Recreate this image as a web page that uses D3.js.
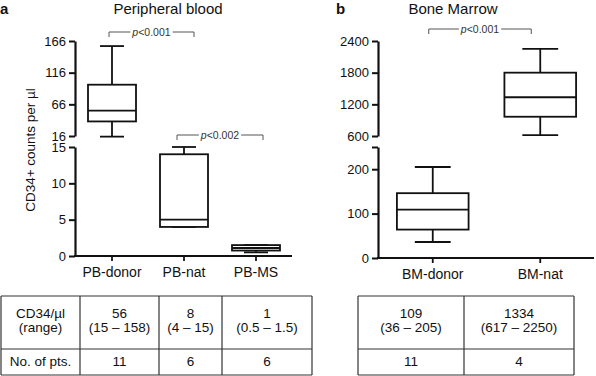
<!DOCTYPE html>
<html><head><meta charset="utf-8">
<script src="https://cdn.jsdelivr.net/npm/d3@7"></script>
<style>
body{margin:0;background:#fff;}
svg{display:block;font-family:"Liberation Sans",Arial,Helvetica,sans-serif;}
</style></head>
<body>
<svg id="c" width="596" height="376"></svg>
<script>
// ---------- DATA ----------
const pbCategories = ["PB-donor", "PB-nat", "PB-MS"];
const pbMin    = [15, 4, 0.5];
const pbQ1     = [39, 4, 0.75];
const pbMedian = [56, 5, 1.1];
const pbQ3     = [97, 14, 1.5];
const pbMax    = [158, 15, 1.5];

const bmCategories = ["BM-donor", "BM-nat"];
const bmMin    = [36, 617];
const bmQ1     = [64, 965];
const bmMedian = [109, 1334];
const bmQ3     = [146, 1800];
const bmMax    = [205, 2250];

const pbTopTicks = [16, 66, 116, 166];
const pbBottomTicks = [0, 5, 10, 15];
const bmTopTicks = [600, 1200, 1800, 2400];
const bmBottomTicks = [0, 100, 200];
const bmBottomMax = 250;

const pValues = ["p<0.001", "p<0.002", "p<0.001"];

const tableRowHeaders = ["CD34/\u00b5l", "(range)", "No. of pts."];
const pbTableMedian = ["56", "8", "1"];
const pbTableRange  = ["(15 \u2013 158)", "(4 \u2013 15)", "(0.5 \u2013 1.5)"];
const pbTableN      = ["11", "6", "6"];
const bmTableMedian = ["109", "1334"];
const bmTableRange  = ["(36 \u2013 205)", "(617 \u2013 2250)"];
const bmTableN      = ["11", "4"];

// ---------- LAYOUT ----------
const svg = d3.select("#c");
const black = "#111";
const fmt = d3.format("d");

function makePanel(cfg) {
  const g = svg.append("g");
  const x = d3.scaleBand().domain(cfg.cats).range([cfg.x0 + 1, cfg.x1]).padding(0);
  const yTop = d3.scaleLinear().domain([cfg.topTicks[0], cfg.topTicks[cfg.topTicks.length - 1]]).range([cfg.topY1, cfg.topY0]);
  const yBot = d3.scaleLinear().domain([0, cfg.botMax]).range([cfg.botY1, cfg.botY0]);

  // axes
  const axTop = d3.axisLeft(yTop).tickValues(cfg.topTicks).tickSize(6).tickPadding(3).tickSizeOuter(0).tickFormat(fmt);
  const axBot = d3.axisLeft(yBot).tickValues(cfg.botTicks.concat(cfg.botExtra ? [cfg.botMax] : []))
    .tickSize(6).tickPadding(3).tickSizeOuter(0)
    .tickFormat(d => cfg.botTicks.includes(d) ? fmt(d) : "");
  [axTop, axBot].forEach(ax => {
    const a = g.append("g").attr("transform", `translate(${cfg.x0},0)`).call(ax);
    a.select(".domain").attr("stroke", black).attr("stroke-width", 2.2);
    a.selectAll(".tick line").attr("stroke", black).attr("stroke-width", 2);
    a.selectAll(".tick text").attr("font-size", 13).attr("fill", black).attr("font-family", "Liberation Sans, Arial, sans-serif");
  });
  // x axis
  const ax = g.append("g").attr("transform", `translate(0,${cfg.botY1})`)
    .call(d3.axisBottom(x).tickSize(5).tickPadding(6).tickSizeOuter(0));
  ax.select(".domain").attr("stroke", black).attr("stroke-width", 2.2)
    .attr("d", `M${cfg.x0 - 1},0H${cfg.x1}`);
  ax.selectAll(".tick line").attr("stroke", black).attr("stroke-width", 1.8);
  ax.selectAll(".tick text").attr("font-size", 14).attr("fill", black).attr("font-family", "Liberation Sans, Arial, sans-serif");

  // boxes
  const bw = x.step() * 2 / 3;
  cfg.cats.forEach((c, i) => {
    const y = cfg.median[i] > cfg.topTicks[0] ? yTop : yBot;
    const cx = x(c) + x.bandwidth() / 2;
    const bg = g.append("g").attr("stroke", black).attr("stroke-width", 1.8).attr("fill", "none");
    bg.append("line").attr("x1", cx).attr("x2", cx).attr("y1", y(cfg.max[i])).attr("y2", y(cfg.q3[i]));
    bg.append("line").attr("x1", cx).attr("x2", cx).attr("y1", y(cfg.q1[i])).attr("y2", y(cfg.min[i]));
    bg.append("line").attr("x1", cx - bw / 4).attr("x2", cx + bw / 4).attr("y1", y(cfg.max[i])).attr("y2", y(cfg.max[i]));
    bg.append("line").attr("x1", cx - bw / 4).attr("x2", cx + bw / 4).attr("y1", y(cfg.min[i])).attr("y2", y(cfg.min[i]));
    bg.append("rect").attr("x", cx - bw / 2).attr("width", bw)
      .attr("y", y(cfg.q3[i])).attr("height", y(cfg.q1[i]) - y(cfg.q3[i])).attr("fill", "#fff");
    bg.append("line").attr("x1", cx - bw / 2).attr("x2", cx + bw / 2).attr("y1", y(cfg.median[i])).attr("y2", y(cfg.median[i]));
  });

  // title + letter
  g.append("text").attr("x", cfg.titleX).attr("y", 14).attr("text-anchor", "middle")
    .attr("font-size", 15).attr("fill", black).text(cfg.title);
  g.append("text").attr("x", cfg.letterX).attr("y", cfg.letterY).attr("font-size", 15)
    .attr("font-weight", "bold").attr("fill", black).text(cfg.letter);

  // brackets
  cfg.brackets.forEach(b => {
    const x1 = x(cfg.cats[b.a]) + x.bandwidth() / 2 + b.dx1;
    const x2 = x(cfg.cats[b.b]) + x.bandwidth() / 2 + b.dx2;
    const mid = (x1 + x2) / 2 + b.tdx;
    const t = g.append("text").attr("x", mid).attr("y", b.y + 3.5).attr("text-anchor", "middle")
      .attr("font-size", 10.5).attr("fill", "#333");
    t.append("tspan").attr("font-style", "italic").text(pValues[b.p].slice(0, 1));
    t.append("tspan").text(pValues[b.p].slice(1));
    const tw = t.node().getComputedTextLength();
    const bl = g.append("g").attr("stroke", "#555").attr("stroke-width", 1).attr("fill", "none");
    bl.append("path").attr("d", `M${x1},${b.y + 5}V${b.y}H${mid - tw / 2 - 2}`);
    bl.append("path").attr("d", `M${mid + tw / 2 + 2},${b.y}H${x2}V${b.y + 5}`);
  });
  return { x, yTop, yBot };
}

makePanel({
  cats: pbCategories, min: pbMin, q1: pbQ1, median: pbMedian, q3: pbQ3, max: pbMax,
  x0: 75, x1: 292, topTicks: pbTopTicks, topY0: 41, topY1: 136,
  botTicks: pbBottomTicks, botMax: 15, botExtra: false, botY0: 147, botY1: 256,
  title: "Peripheral blood", titleX: 168, letter: "a", letterX: 0, letterY: 14,
  brackets: [{ a: 0, b: 1, dx1: -3, dx2: 10, y: 32, p: 0, tdx: 0 },
             { a: 1, b: 2, dx1: -7, dx2: 7, y: 135, p: 1, tdx: 0 }]
});
makePanel({
  cats: bmCategories, min: bmMin, q1: bmQ1, median: bmMedian, q3: bmQ3, max: bmMax,
  x0: 378, x1: 594, topTicks: bmTopTicks, topY0: 41, topY1: 136,
  botTicks: bmBottomTicks, botMax: bmBottomMax, botExtra: true, botY0: 147, botY1: 258,
  title: "Bone Marrow", titleX: 453, letter: "b", letterX: 336, letterY: 14,
  brackets: [{ a: 0, b: 1, dx1: -4, dx2: -9, y: 29, p: 2, tdx: 0 }]
});

// Y axis title
svg.append("text").attr("transform", "translate(35,150) rotate(-90)").attr("text-anchor", "middle")
  .attr("font-size", 13.5).attr("fill", black).text("CD34+ counts per \u00b5l");

// ---------- TABLES ----------
function table(cols, rowsY, cells) {
  const g = svg.append("g");
  cols.forEach(cx => g.append("line").attr("x1", cx).attr("x2", cx).attr("y1", rowsY[0]).attr("y2", rowsY[rowsY.length - 1]).attr("stroke", "#333").attr("stroke-width", 1.2));
  rowsY.forEach(ry => g.append("line").attr("x1", cols[0]).attr("x2", cols[cols.length - 1]).attr("y1", ry).attr("y2", ry).attr("stroke", "#333").attr("stroke-width", 1.2));
  cells.forEach(c => {
    const cx = (cols[c.col] + cols[c.col + 1]) / 2;
    g.append("text").attr("x", cx).attr("y", c.y).attr("text-anchor", "middle")
      .attr("font-size", 13.5).attr("fill", black).text(c.text);
  });
}
const rowY = [296, 349, 375];
const leftCells = [
  { col: 0, y: 318, text: tableRowHeaders[0] },
  { col: 0, y: 332, text: tableRowHeaders[1] },
  { col: 0, y: 366, text: tableRowHeaders[2] }
];
pbTableMedian.forEach((v, i) => {
  leftCells.push({ col: i + 1, y: 318, text: v });
  leftCells.push({ col: i + 1, y: 332, text: pbTableRange[i] });
  leftCells.push({ col: i + 1, y: 366, text: pbTableN[i] });
});
table([1, 80, 159, 222, 312], rowY, leftCells);
const rightCells = [];
bmTableMedian.forEach((v, i) => {
  rightCells.push({ col: i, y: 318, text: v });
  rightCells.push({ col: i, y: 332, text: bmTableRange[i] });
  rightCells.push({ col: i, y: 366, text: bmTableN[i] });
});
table([358, 464, 574], rowY, rightCells);
</script>
</body></html>
